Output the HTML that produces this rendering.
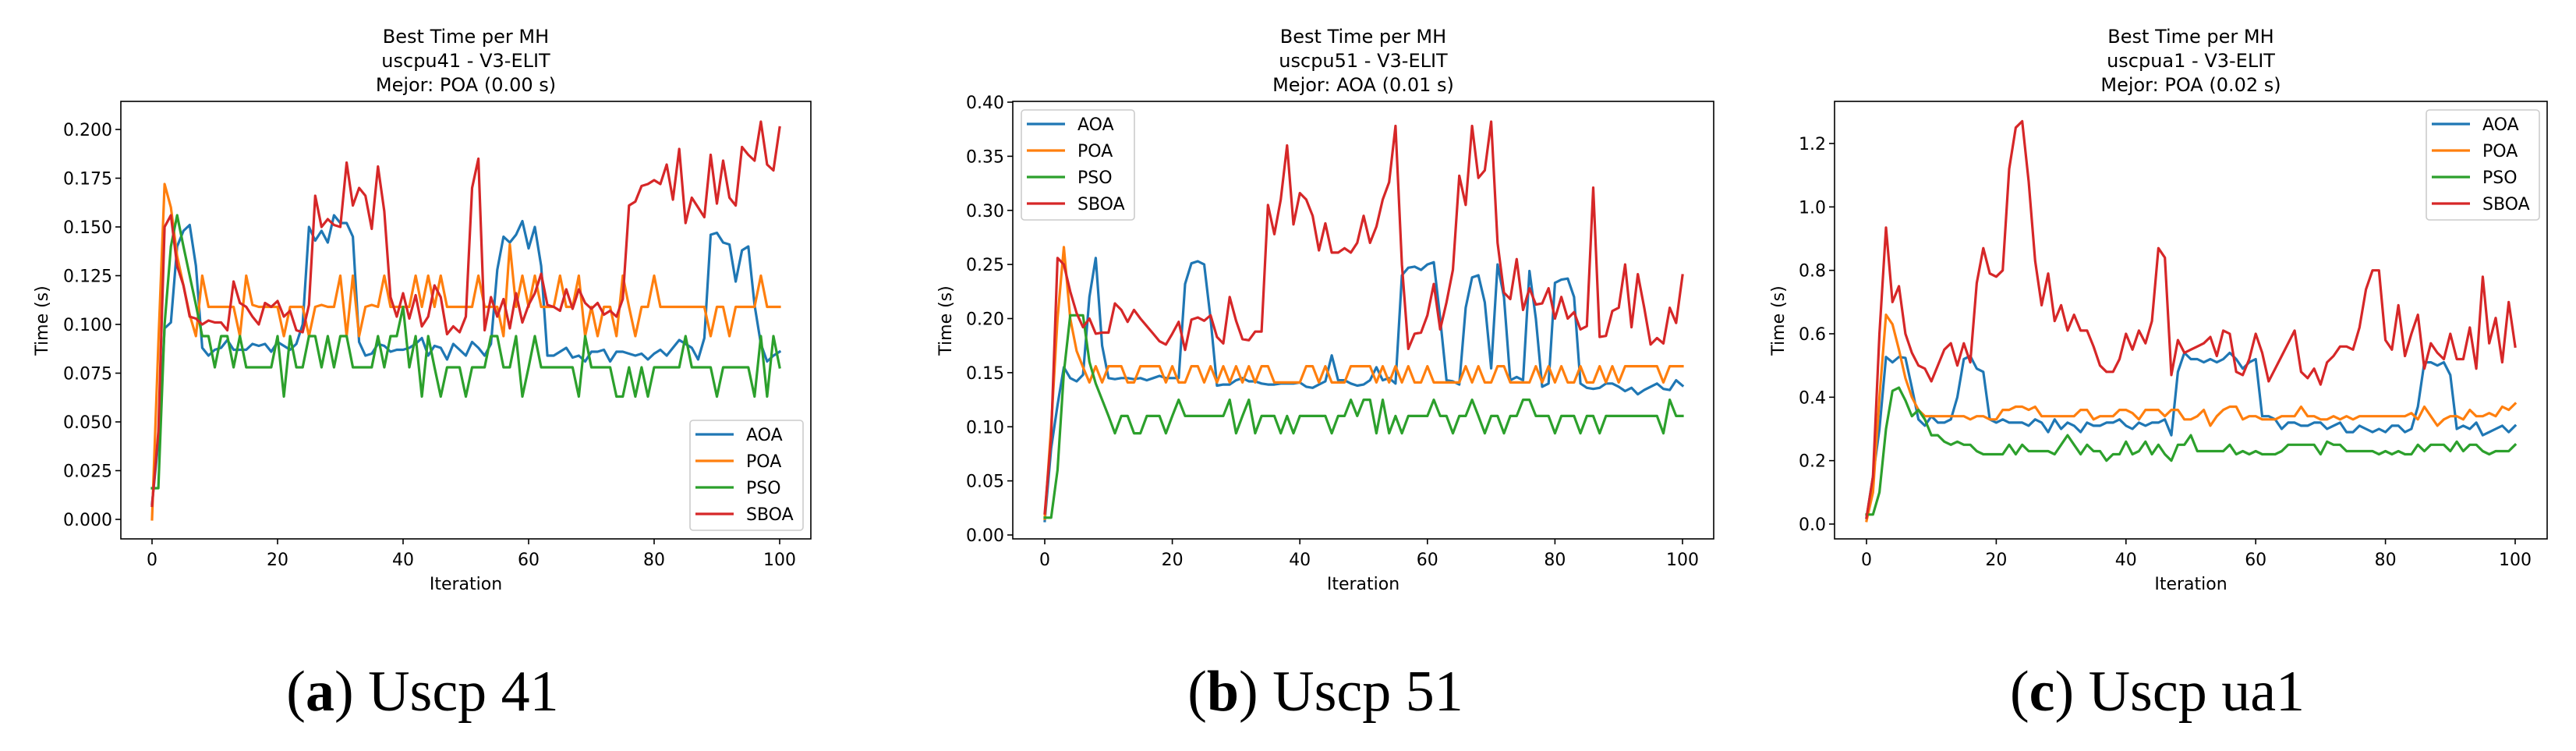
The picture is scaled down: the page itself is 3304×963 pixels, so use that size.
<!DOCTYPE html>
<html><head><meta charset="utf-8">
<style>
html,body{margin:0;padding:0;background:#fff;}
svg{display:block;}
text{font-family:"DejaVu Sans","Liberation Sans",sans-serif;fill:#000;}
.cap{font-family:"Liberation Serif",serif;font-size:74px;}
</style></head>
<body>
<svg id="fig" width="3304" height="963" viewBox="0 0 3304 963" xmlns="http://www.w3.org/2000/svg"></svg>
<script>
const iterations = Array.from({length:101},(_,i)=>i);
const seriesNames = ["AOA","POA","PSO","SBOA"];
const seriesColors = ["#1f77b4","#ff7f0e","#2ca02c","#d62728"];

const aAOA=[0.008,0.04,0.098,0.101,0.14,0.148,0.151,0.13,0.088,0.084,
0.087,0.088,0.092,0.087,0.087,0.087,0.09,0.089,0.09,0.086,
0.091,0.089,0.087,0.09,0.1,0.15,0.143,0.148,0.142,0.156,
0.152,0.152,0.145,0.091,0.084,0.085,0.09,0.089,0.086,0.087,
0.087,0.088,0.09,0.093,0.084,0.089,0.088,0.082,0.09,0.087,
0.084,0.091,0.088,0.084,0.09,0.128,0.145,0.142,0.146,0.153,
0.139,0.15,0.13,0.084,0.084,0.086,0.088,0.083,0.084,0.081,
0.086,0.086,0.087,0.081,0.086,0.086,0.085,0.084,0.085,0.082,
0.085,0.087,0.084,0.088,0.092,0.09,0.088,0.082,0.093,0.146,
0.147,0.142,0.141,0.122,0.138,0.14,0.11,0.09,0.081,0.084,0.086];
const aPOA=[0,0.09,0.172,0.16,0.135,0.12,0.105,0.094,0.125,0.109,
0.109,0.109,0.109,0.109,0.094,0.125,0.11,0.109,0.109,0.109,
0.109,0.094,0.109,0.109,0.109,0.094,0.109,0.11,0.109,0.109,
0.125,0.094,0.125,0.094,0.109,0.11,0.109,0.125,0.109,0.109,
0.109,0.109,0.125,0.109,0.125,0.109,0.125,0.109,0.109,0.109,
0.109,0.109,0.125,0.109,0.109,0.109,0.094,0.141,0.109,0.125,
0.109,0.125,0.109,0.109,0.109,0.125,0.109,0.109,0.125,0.094,
0.109,0.094,0.109,0.109,0.094,0.125,0.109,0.094,0.109,0.109,
0.125,0.109,0.109,0.109,0.109,0.109,0.109,0.109,0.109,0.094,
0.109,0.109,0.094,0.109,0.109,0.109,0.109,0.125,0.109,0.109,0.109];
const aPSO=[0.016,0.016,0.1,0.14,0.156,0.14,0.125,0.11,0.094,0.094,
0.078,0.094,0.094,0.078,0.094,0.078,0.078,0.078,0.078,0.078,
0.094,0.063,0.094,0.078,0.078,0.094,0.094,0.078,0.094,0.078,
0.094,0.094,0.078,0.078,0.078,0.078,0.094,0.078,0.094,0.094,
0.109,0.078,0.094,0.063,0.094,0.078,0.063,0.078,0.078,0.078,
0.063,0.078,0.078,0.078,0.094,0.094,0.078,0.078,0.094,0.063,
0.078,0.094,0.078,0.078,0.078,0.078,0.078,0.078,0.063,0.094,
0.078,0.078,0.078,0.078,0.063,0.063,0.078,0.063,0.078,0.063,
0.078,0.078,0.078,0.078,0.078,0.094,0.078,0.078,0.078,0.078,
0.063,0.078,0.078,0.078,0.078,0.078,0.063,0.094,0.063,0.094,0.078];
const aSBOA=[0.007,0.045,0.15,0.156,0.13,0.12,0.104,0.103,0.1,0.102,
0.101,0.101,0.097,0.122,0.111,0.109,0.104,0.1,0.111,0.109,
0.112,0.104,0.107,0.097,0.096,0.11,0.166,0.15,0.154,0.151,
0.15,0.183,0.161,0.17,0.166,0.149,0.181,0.158,0.114,0.104,
0.116,0.103,0.115,0.099,0.104,0.12,0.114,0.095,0.099,0.096,
0.104,0.17,0.185,0.097,0.114,0.104,0.113,0.098,0.116,0.101,
0.11,0.116,0.126,0.11,0.109,0.107,0.118,0.108,0.118,0.111,
0.108,0.111,0.105,0.107,0.104,0.113,0.161,0.163,0.171,0.172,
0.174,0.172,0.182,0.164,0.19,0.152,0.165,0.16,0.155,0.187,
0.162,0.184,0.165,0.161,0.191,0.187,0.184,0.204,0.182,0.179,0.201];

const bAOA=[0.013,0.08,0.12,0.155,0.145,0.142,0.148,0.22,0.256,0.175,
0.145,0.144,0.145,0.145,0.144,0.145,0.143,0.145,0.147,0.145,
0.145,0.145,0.232,0.251,0.253,0.25,0.2,0.138,0.139,0.139,
0.143,0.145,0.142,0.142,0.14,0.139,0.139,0.14,0.14,0.14,
0.141,0.137,0.136,0.139,0.142,0.166,0.143,0.143,0.14,0.138,
0.139,0.143,0.155,0.143,0.145,0.14,0.24,0.247,0.248,0.245,
0.25,0.252,0.2,0.143,0.142,0.139,0.21,0.238,0.24,0.215,
0.154,0.25,0.22,0.143,0.146,0.143,0.244,0.2,0.137,0.14,
0.233,0.236,0.237,0.22,0.14,0.136,0.135,0.136,0.14,0.14,
0.137,0.133,0.136,0.13,0.134,0.137,0.14,0.135,0.134,0.143,0.138];
const bPOA=[0.015,0.1,0.2,0.266,0.2,0.17,0.155,0.141,0.156,0.141,
0.156,0.156,0.156,0.141,0.141,0.156,0.156,0.156,0.156,0.141,
0.156,0.141,0.141,0.156,0.156,0.141,0.156,0.141,0.156,0.141,
0.156,0.141,0.156,0.141,0.156,0.156,0.141,0.141,0.141,0.141,
0.141,0.156,0.156,0.141,0.156,0.141,0.141,0.141,0.156,0.156,
0.156,0.156,0.141,0.156,0.141,0.156,0.141,0.156,0.141,0.141,
0.156,0.141,0.141,0.141,0.141,0.141,0.156,0.141,0.156,0.141,
0.141,0.156,0.156,0.141,0.141,0.141,0.141,0.156,0.141,0.156,
0.141,0.156,0.141,0.141,0.156,0.141,0.141,0.156,0.141,0.156,
0.141,0.156,0.156,0.156,0.156,0.156,0.156,0.141,0.156,0.156,0.156];
const bPSO=[0.016,0.016,0.06,0.15,0.203,0.203,0.203,0.16,0.14,0.125,
0.11,0.094,0.11,0.11,0.094,0.094,0.11,0.11,0.11,0.094,
0.11,0.125,0.11,0.11,0.11,0.11,0.11,0.11,0.11,0.125,
0.094,0.11,0.125,0.094,0.11,0.11,0.11,0.094,0.11,0.094,
0.11,0.11,0.11,0.11,0.11,0.094,0.11,0.11,0.125,0.11,
0.125,0.125,0.094,0.125,0.094,0.11,0.094,0.11,0.11,0.11,
0.11,0.125,0.11,0.11,0.094,0.11,0.11,0.125,0.11,0.094,
0.11,0.11,0.094,0.11,0.11,0.125,0.125,0.11,0.11,0.11,
0.094,0.11,0.11,0.11,0.094,0.11,0.11,0.094,0.11,0.11,
0.11,0.11,0.11,0.11,0.11,0.11,0.11,0.094,0.125,0.11,0.11];
const bSBOA=[0.02,0.09,0.256,0.25,0.225,0.205,0.192,0.2,0.186,0.187,
0.187,0.214,0.208,0.197,0.208,0.2,0.193,0.186,0.179,0.176,
0.186,0.197,0.171,0.199,0.201,0.198,0.203,0.183,0.177,0.22,
0.198,0.181,0.18,0.188,0.188,0.305,0.278,0.31,0.36,0.287,
0.316,0.31,0.295,0.263,0.288,0.261,0.261,0.265,0.261,0.27,
0.295,0.27,0.285,0.31,0.326,0.378,0.25,0.172,0.186,0.187,
0.203,0.232,0.19,0.215,0.245,0.332,0.305,0.378,0.33,0.337,
0.382,0.27,0.224,0.218,0.255,0.208,0.228,0.213,0.214,0.228,
0.2,0.22,0.2,0.206,0.19,0.193,0.321,0.183,0.184,0.207,
0.21,0.25,0.192,0.241,0.21,0.176,0.182,0.177,0.21,0.196,0.24];

const cAOA=[0.02,0.15,0.3,0.527,0.51,0.527,0.524,0.43,0.33,0.31,
0.34,0.32,0.32,0.33,0.4,0.52,0.53,0.49,0.48,0.33,
0.32,0.33,0.32,0.32,0.32,0.31,0.33,0.32,0.29,0.33,
0.3,0.32,0.31,0.29,0.32,0.31,0.31,0.32,0.32,0.33,
0.31,0.3,0.32,0.31,0.32,0.32,0.33,0.28,0.48,0.54,
0.52,0.52,0.51,0.52,0.51,0.52,0.54,0.52,0.49,0.51,
0.52,0.34,0.34,0.33,0.3,0.32,0.32,0.31,0.31,0.32,
0.32,0.3,0.31,0.32,0.29,0.29,0.31,0.3,0.29,0.3,
0.29,0.31,0.31,0.29,0.3,0.37,0.51,0.51,0.5,0.51,
0.47,0.3,0.31,0.3,0.32,0.28,0.29,0.3,0.31,0.29,0.31];
const cPOA=[0.01,0.1,0.4,0.66,0.63,0.55,0.46,0.4,0.36,0.34,
0.34,0.34,0.34,0.34,0.34,0.34,0.33,0.34,0.34,0.33,
0.33,0.36,0.36,0.37,0.37,0.36,0.37,0.34,0.34,0.34,
0.34,0.34,0.34,0.36,0.36,0.33,0.34,0.34,0.34,0.36,
0.36,0.35,0.33,0.36,0.36,0.36,0.34,0.36,0.36,0.33,
0.33,0.34,0.36,0.31,0.34,0.36,0.37,0.37,0.33,0.34,
0.34,0.33,0.33,0.33,0.34,0.34,0.34,0.37,0.34,0.34,
0.33,0.33,0.34,0.33,0.34,0.33,0.34,0.34,0.34,0.34,
0.34,0.34,0.34,0.34,0.35,0.33,0.37,0.34,0.31,0.33,
0.34,0.34,0.33,0.36,0.34,0.34,0.35,0.34,0.37,0.36,0.38];
const cPSO=[0.03,0.03,0.1,0.3,0.42,0.43,0.39,0.34,0.36,0.33,
0.28,0.28,0.26,0.25,0.26,0.25,0.25,0.23,0.22,0.22,
0.22,0.22,0.25,0.22,0.25,0.23,0.23,0.23,0.23,0.22,
0.25,0.28,0.25,0.22,0.25,0.23,0.23,0.2,0.22,0.22,
0.26,0.22,0.23,0.26,0.22,0.25,0.22,0.2,0.25,0.25,
0.28,0.23,0.23,0.23,0.23,0.23,0.25,0.22,0.23,0.22,
0.23,0.22,0.22,0.22,0.23,0.25,0.25,0.25,0.25,0.25,
0.22,0.26,0.25,0.25,0.23,0.23,0.23,0.23,0.23,0.22,
0.23,0.22,0.23,0.22,0.22,0.25,0.23,0.25,0.25,0.25,
0.23,0.26,0.23,0.25,0.25,0.23,0.22,0.23,0.23,0.23,0.25];
const cSBOA=[0.02,0.15,0.6,0.935,0.7,0.75,0.6,0.54,0.5,0.49,
0.45,0.5,0.55,0.57,0.5,0.57,0.51,0.76,0.87,0.79,
0.78,0.8,1.12,1.25,1.27,1.08,0.83,0.69,0.79,0.64,
0.69,0.61,0.66,0.61,0.61,0.56,0.5,0.48,0.48,0.52,
0.6,0.55,0.61,0.57,0.64,0.87,0.84,0.47,0.58,0.54,
0.55,0.56,0.57,0.59,0.53,0.61,0.6,0.48,0.47,0.52,
0.6,0.54,0.45,0.49,0.53,0.57,0.61,0.48,0.46,0.49,
0.44,0.51,0.53,0.56,0.56,0.55,0.62,0.74,0.8,0.8,
0.58,0.55,0.69,0.53,0.6,0.66,0.49,0.57,0.54,0.52,
0.6,0.52,0.52,0.62,0.49,0.78,0.57,0.65,0.51,0.7,0.56];

const xTicks=[0,20,40,60,80,100];
const aYTicks=[0,0.025,0.05,0.075,0.1,0.125,0.15,0.175,0.2];
const bYTicks=[0,0.05,0.1,0.15,0.2,0.25,0.3,0.35,0.4];
const cYTicks=[0,0.2,0.4,0.6,0.8,1.0,1.2];
const titles=[["Best Time per MH","uscpu41 - V3-ELIT","Mejor: POA (0.00 s)"],
              ["Best Time per MH","uscpu51 - V3-ELIT","Mejor: AOA (0.01 s)"],
              ["Best Time per MH","uscpua1 - V3-ELIT","Mejor: POA (0.02 s)"]];
const captionLetters=["a","b","c"];
const captionTexts=[" Uscp 41"," Uscp 51"," Uscp ua1"];

const NS="http://www.w3.org/2000/svg";
const svg=document.getElementById('fig');
function mk(tag,attrs,parent){const e=document.createElementNS(NS,tag);for(const k in attrs)e.setAttribute(k,attrs[k]);(parent||svg).appendChild(e);return e;}

const panels=[
 {id:"a",L:155,R:1040,T:130,B:691,x0:195,x1:1000,y0v:0,y0p:666,y1v:0.2,y1p:166,ticks:aYTicks,dec:3,data:[aAOA,aPOA,aPSO,aSBOA],leg:{x:885,y:539},ylx:53},
 {id:"b",L:1299,R:2198,T:130,B:691,x0:1340,x1:2158,y0v:0,y0p:686,y1v:0.4,y1p:131,ticks:bYTicks,dec:2,data:[bAOA,bPOA,bPSO,bSBOA],leg:{x:1310,y:141},ylx:1212},
 {id:"c",L:2353,R:3267,T:130,B:691,x0:2394,x1:3226,y0v:0,y0p:672,y1v:1.2,y1p:184,ticks:cYTicks,dec:1,data:[cAOA,cPOA,cPSO,cSBOA],leg:{x:3112,y:141},ylx:2280}
];

panels.forEach((p,pi)=>{
  const g=mk('g',{});
  
  
  const xs=v=>p.x0+(v-0)*(p.x1-p.x0)/100;
  const ys=v=>p.y0p+(v-p.y0v)*(p.y1p-p.y0p)/(p.y1v-p.y0v);
  // title
  titles[pi].forEach((t,li)=>{
    const tt=mk('text',{x:(p.L+p.R)/2,y:55+li*31,'text-anchor':'middle','font-size':24},g);
    tt.textContent=t;
    
    
  });
  // clip
  const cp=mk('clipPath',{id:'clip'+p.id},g);
  mk('rect',{x:p.L,y:p.T,width:p.R-p.L,height:p.B-p.T},cp);
  // series
  p.data.forEach((arr,si)=>{
    const d=arr.map((v,i)=>(i?'L':'M')+xs(iterations[i]).toFixed(1)+' '+ys(v).toFixed(1)).join(' ');
    const path=mk('path',{d:d,fill:'none',stroke:seriesColors[si],'stroke-width':3.2,'stroke-linejoin':'round','stroke-linecap':'square','clip-path':'url(#clip'+p.id+')'},g);
    
    
  });
  // frame
  const fr=mk('rect',{x:p.L,y:p.T,width:p.R-p.L,height:p.B-p.T,fill:'none',stroke:'#000','stroke-width':1.6},g);
  
  
  // x ticks
  xTicks.forEach(t=>{
    const x=xs(t);
    mk('line',{x1:x,y1:p.B,x2:x,y2:p.B+7,stroke:'#000','stroke-width':1.6},g);
    const tl=mk('text',{x:x,y:p.B+34,'text-anchor':'middle','font-size':22},g);
    tl.textContent=t;
    
    
  });
  // y ticks
  p.ticks.forEach(t=>{
    const y=ys(t);
    mk('line',{x1:p.L-7,y1:y,x2:p.L,y2:y,stroke:'#000','stroke-width':1.6},g);
    const tl=mk('text',{x:p.L-11,y:y+8,'text-anchor':'end','font-size':22},g);
    tl.textContent=t.toFixed(p.dec);
    
    
  });
  const xl=mk('text',{x:(p.L+p.R)/2,y:756,'text-anchor':'middle','font-size':22},g);
  xl.textContent='Iteration';
  
  
  const yl=mk('text',{x:0,y:0,'text-anchor':'middle','font-size':22,transform:'translate('+(p.ylx+8)+',411) rotate(-90)'},g);
  yl.textContent='Time (s)';
  
  
  // legend
  const lg=mk('g',{},g);
  
  
  mk('rect',{x:p.leg.x,y:p.leg.y,width:145,height:141,rx:4,fill:'#fff','fill-opacity':0.8,stroke:'#ccc','stroke-width':1.6},lg);
  seriesNames.forEach((n,si)=>{
    const y=p.leg.y+18+si*34;
    const ln=mk('line',{x1:p.leg.x+7,y1:y,x2:p.leg.x+56,y2:y,stroke:seriesColors[si],'stroke-width':3.2},lg);
    
    
    const lt=mk('text',{x:p.leg.x+72,y:y+8,'font-size':22},lg);
    lt.textContent=n;
    
    
  });
  // caption
  const cx=[542,1700,2767][pi];
  const cap=mk('text',{x:cx,y:911,'text-anchor':'middle','class':'cap'},svg);
  
  
  const s1=mk('tspan',{},cap); s1.textContent='(';
  const s2=mk('tspan',{'font-weight':'bold'},cap); s2.textContent=captionLetters[pi];
  const s3=mk('tspan',{},cap); s3.textContent=')'+captionTexts[pi];
});
</script>
</body></html>
